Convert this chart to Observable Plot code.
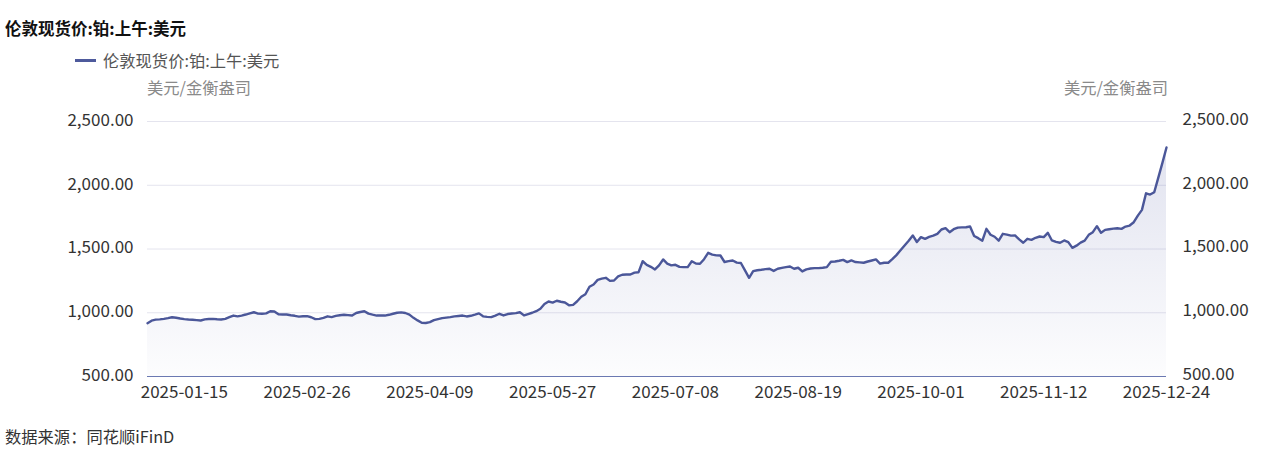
<!DOCTYPE html>
<html>
<head>
<meta charset="utf-8">
<script src="https://cdn.jsdelivr.net/npm/d3@7"></script>
<script src="https://cdn.jsdelivr.net/npm/@observablehq/plot@0.6"></script>
<style>
  html, body { margin: 0; padding: 0; background: #fff; }
  body { width: 1268px; height: 452px; position: relative; overflow: hidden;
         font-family: "Noto Sans CJK SC", "Noto Sans", sans-serif; }
  .abs { position: absolute; white-space: nowrap; line-height: 20px; }
  #title { left: 5px; top: 18px; font-size: 16.5px; font-weight: bold; color: #111; }
  #legend { left: 75px; top: 50px; font-size: 16.3px; color: #555; }
  #legend .sw { position: absolute; left: 0; top: 9px; width: 21px; height: 3px; background: #4e5a9c; }
  #legend .tx { position: absolute; left: 28px; top: 0; }
  .unit { top: 77px; font-size: 16.3px; color: #8a8a8a; }
  #unitL { left: 147px; }
  #unitR { right: 100px; }
  #caption { left: 5px; top: 426px; font-size: 16.3px; color: #333; }
  #chart { position: absolute; left: 0; top: 0; }
</style>
</head>
<body>
<div id="chart"></div>
<div id="title" class="abs"></div>
<div id="legend" class="abs"><span class="sw"></span><span class="tx"></span></div>
<div id="unitL" class="abs unit"></div>
<div id="unitR" class="abs unit"></div>
<div id="caption" class="abs"></div>
<script>
// ---- text ----
const titleText = "伦敦现货价:铂:上午:美元";
const seriesName = "伦敦现货价:铂:上午:美元";
const unitText = "美元/金衡盎司";
const captionText = "数据来源：同花顺iFinD";

// ---- categories: LBMA trading days 2025-01-02 .. 2025-12-24 ----
const startDate = "2025-01-02";
const endDate = "2025-12-24";
const ukHolidays = ["2025-04-18", "2025-04-21", "2025-05-05", "2025-05-26", "2025-08-25"];

// ---- x tick labels ----
const tickLabels = ["2025-01-15", "2025-02-26", "2025-04-09", "2025-05-27", "2025-07-08",
                    "2025-08-19", "2025-10-01", "2025-11-12", "2025-12-24"];

// ---- y ticks ----
const yTicks = [500, 1000, 1500, 2000, 2500];

// ---- series values (USD / troy oz) ----
const values = [
  918, 938, 946, 948, 952, 958, 965, 961, 955, 950,
  947, 945, 942, 939, 948, 951, 952, 949, 947, 952,
  965, 978, 972, 978, 986, 995, 1004, 993, 992, 995,
  1012, 1010, 988, 986, 986, 980, 976, 970, 972, 973,
  965, 950, 952, 960, 972, 966, 975, 980, 984, 981,
  978, 998, 1006, 1012, 993, 985, 978, 978, 978, 984,
  992, 1000, 1003, 998, 985, 960, 940, 922, 920, 926,
  942, 950, 958, 962, 966, 972, 975, 978, 971, 976,
  985, 995, 972, 968, 966, 978, 992, 979, 990, 994,
  997, 1004, 979, 990, 1000, 1012, 1031, 1068, 1088, 1080,
  1094, 1086, 1080, 1058, 1062, 1090, 1125, 1145, 1204, 1222,
  1258, 1268, 1274, 1250, 1253, 1285, 1298, 1300, 1300, 1315,
  1318, 1404, 1375, 1360, 1340, 1372, 1418, 1386, 1372, 1376,
  1360, 1358, 1358, 1404, 1386, 1384, 1420, 1470, 1456, 1450,
  1449, 1398, 1405, 1410, 1393, 1390, 1332, 1274, 1327, 1333,
  1337, 1342, 1345, 1328, 1345, 1352, 1358, 1363, 1345, 1353,
  1324, 1340, 1347, 1350, 1350, 1353, 1358, 1400, 1402, 1408,
  1415, 1397, 1410, 1398, 1395, 1392, 1402, 1410, 1418, 1385,
  1392, 1392, 1420, 1452, 1490, 1528, 1565, 1606, 1555, 1593,
  1580, 1595, 1605, 1619, 1653, 1663, 1632, 1655, 1668, 1670,
  1671, 1676, 1602, 1585, 1565, 1658, 1612, 1596, 1565, 1619,
  1613, 1605, 1606, 1575, 1549, 1580, 1572, 1588, 1598, 1593,
  1627, 1567, 1556, 1549, 1567, 1554, 1509, 1526, 1550, 1566,
  1611, 1632, 1679, 1627, 1650, 1655, 1660, 1663, 1658, 1676,
  1684, 1710, 1762, 1807, 1937, 1927, 1945, 2060, 2175, 2296
];

// build trading-day list
const dates = [];
{
  const fmt = d3.utcFormat("%Y-%m-%d");
  let d = new Date(startDate + "T00:00:00Z");
  const end = new Date(endDate + "T00:00:00Z");
  while (d <= end) {
    const wd = d.getUTCDay();
    const s = fmt(d);
    if (wd !== 0 && wd !== 6 && !ukHolidays.includes(s)) dates.push(s);
    d = d3.utcDay.offset(d, 1);
  }
}
const data = values.map((v, i) => ({i, date: dates[i], value: v}));
const tickIdx = tickLabels.map(t => dates.indexOf(t));

document.getElementById("title").textContent = titleText;
document.querySelector("#legend .tx").textContent = seriesName;
document.getElementById("unitL").textContent = unitText;
document.getElementById("unitR").textContent = unitText;
document.getElementById("caption").textContent = captionText;

const lineColor = "#4b5799";
const fmtY = d3.format(",.2f");

const plot = Plot.plot({
  width: 1268,
  height: 452,
  marginTop: 121,
  marginBottom: 76,
  marginLeft: 147,
  marginRight: 102,
  style: {fontFamily: '"Noto Sans CJK SC", "Noto Sans", sans-serif', fontSize: "17px", color: "#333", background: "transparent"},
  x: {domain: [0, values.length - 1], axis: null},
  y: {domain: [500, 2500], axis: null},
  marks: [
    Plot.gridY(yTicks.slice(1), {stroke: "#e4e4ee", strokeOpacity: 1}),
    Plot.areaY(data, {x: "i", y1: 500, y2: "value", fill: "url(#ptGrad)"}),
    Plot.ruleY([500], {stroke: "#6b79b2", strokeWidth: 1.2}),
    Plot.lineY(data, {x: "i", y: "value", stroke: lineColor, strokeWidth: 2.4, strokeLinejoin: "round"}),
    Plot.axisY({anchor: "left", label: null, ticks: yTicks, tickFormat: fmtY, tickSize: 0, tickPadding: 14, fontSize: 17, fill: "#333", dy: -1}),
    Plot.axisY({anchor: "right", label: null, ticks: yTicks, tickFormat: fmtY, tickSize: 0, tickPadding: 16, fontSize: 17, fill: "#333", dy: -2}),
    Plot.axisX({label: null, ticks: tickIdx, tickFormat: i => dates[i], tickSize: 0, tickPadding: 9, fontSize: 17, fill: "#333"})
  ]
});

d3.select(plot).insert("defs", ":first-child").html(
  '<linearGradient id="ptGrad" x1="0" y1="0" x2="0" y2="1">' +
  '<stop offset="0" stop-color="#5a64a8" stop-opacity="0.18"/>' +
  '<stop offset="1" stop-color="#5a64a8" stop-opacity="0.015"/>' +
  '</linearGradient>'
);

document.getElementById("chart").appendChild(plot);
</script>
</body>
</html>
